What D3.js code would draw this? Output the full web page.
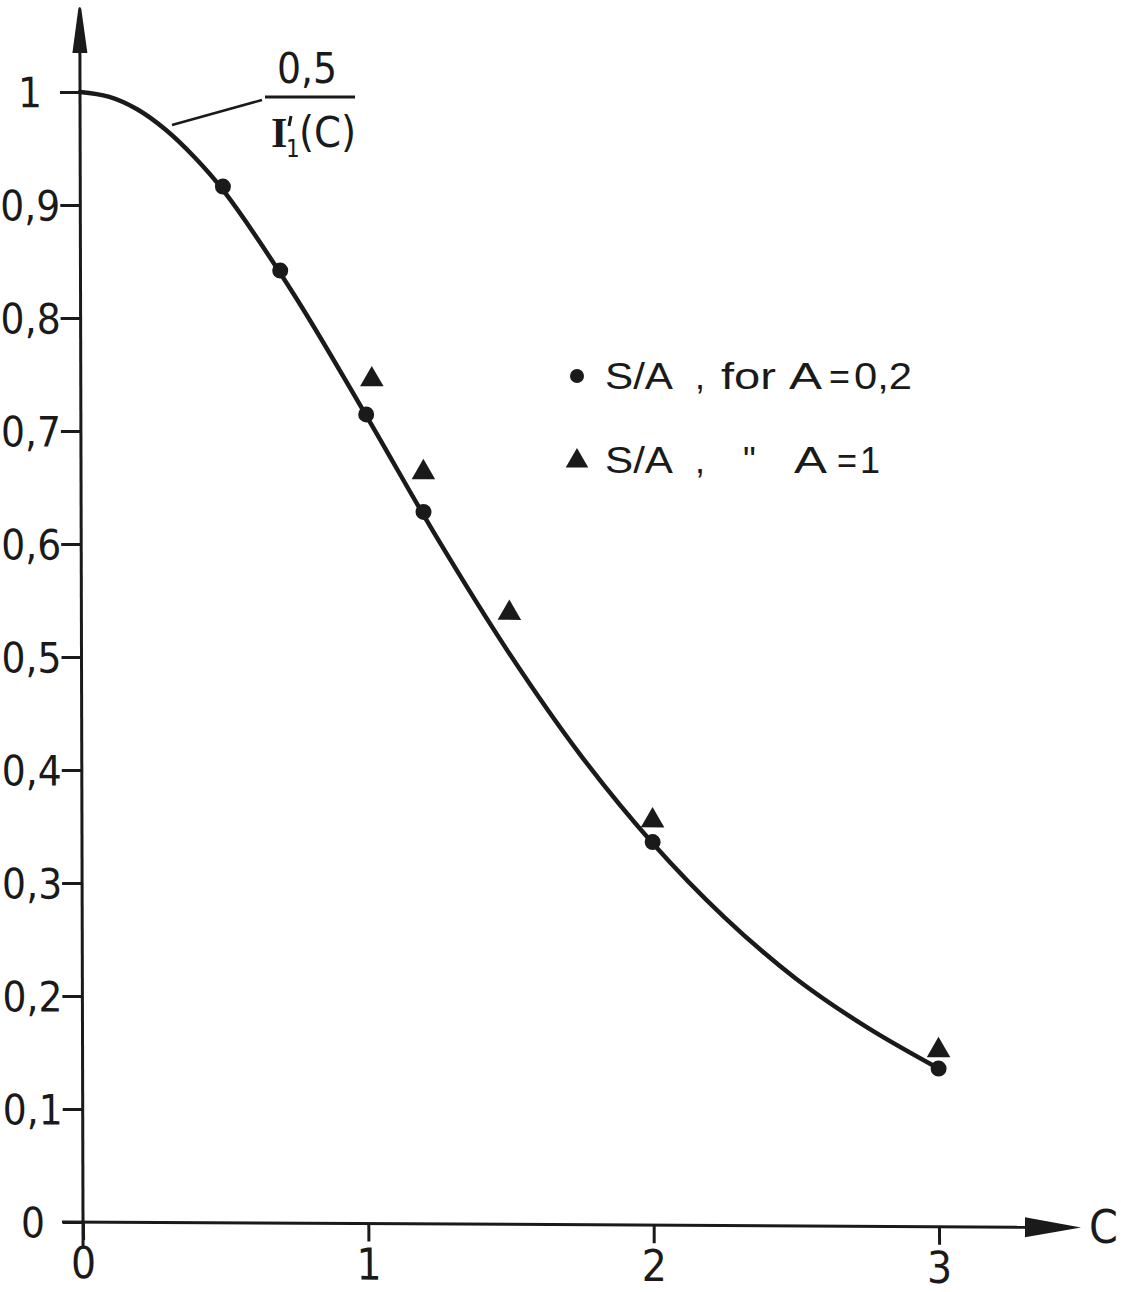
<!DOCTYPE html>
<html>
<head>
<meta charset="utf-8">
<script src="https://cdn.jsdelivr.net/npm/d3@7"></script>
<style>
  body { margin: 0; background: #fff; }
  svg { display: block; }
  text { font-family: "Liberation Sans Narrow", "DejaVu Sans Condensed", "Liberation Sans", sans-serif; fill: #1a1a1a; }
</style>
</head>
<body>
<div id="chart"></div>
<script>
// data
var circleC = [0.5, 0.7, 1.0, 1.2, 2.0, 3.0];
var circleS = [0.917, 0.843, 0.716, 0.630, 0.339, 0.140];   // S/A, for A = 0,2
var triangleC = [1.02, 1.2, 1.5, 2.0, 3.0];
var triangleS = [0.747, 0.665, 0.541, 0.358, 0.156];        // S/A, A = 1
var curveC = [0, 0.1, 0.2, 0.3, 0.4, 0.5, 0.75, 1, 1.25, 1.5, 1.75, 2, 2.25, 2.5, 2.75, 3];
var curveS = [1, 0.996, 0.985, 0.967, 0.943, 0.914, 0.821, 0.715, 0.606, 0.505, 0.415, 0.338, 0.273, 0.219, 0.176, 0.140];
var xTicks = [0, 1, 2, 3];
var yTicks = [0, 0.1, 0.2, 0.3, 0.4, 0.5, 0.6, 0.7, 0.8, 0.9, 1];

var width = 1121;
var height = 1292;
var ink = "#1a1a1a";

var svg = d3.select("#chart")
  .append("svg")
  .attr("width", width)
  .attr("height", height);

svg.append("rect").attr("width", width).attr("height", height).attr("fill", "#fff");

var x = d3.scaleLinear().domain([0, 3]).range([83, 939]);
var y = d3.scaleLinear().domain([0, 1]).range([1222, 92]);

// the scan is a little skewed
var skewX = 0.00265, skewY = 0.0055;
var plot = svg.append("g")
  .attr("transform", "matrix(1," + skewY + "," + skewX + ",1," + (-skewX * 1222) + "," + (-skewY * 83) + ")");

// y axis
var yAxis = plot.append("g")
  .attr("transform", "translate(" + x(0) + ",0)")
  .call(d3.axisLeft(y)
    .tickValues(yTicks)
    .tickSize(20)
    .tickFormat(function(d) {
      if (d === 0 || d === 1) return String(d);
      return d3.format(".1f")(d).replace(".", ",");
    }));
yAxis.select(".domain").remove();
yAxis.selectAll(".tick line").attr("stroke", ink).attr("stroke-width", 3);
yAxis.selectAll(".tick text")
  .attr("x", -50)
  .attr("dy", "0.36em")
  .attr("text-anchor", "middle")
  .style("font-size", "42px")
  .attr("fill", ink);

// x axis
var xAxis = plot.append("g")
  .attr("transform", "translate(0," + y(0) + ")")
  .call(d3.axisBottom(x)
    .tickValues(xTicks)
    .tickSize(18)
    .tickFormat(d3.format("d")));
xAxis.select(".domain").remove();
xAxis.selectAll(".tick line").attr("stroke", ink).attr("stroke-width", 3);
xAxis.selectAll(".tick text")
  .attr("y", 56)
  .attr("dy", 0)
  .style("font-size", "44px")
  .attr("fill", ink);

// axis lines with arrow heads
plot.append("line")
  .attr("x1", x(0)).attr("y1", y(0) + 24)
  .attr("x2", x(0)).attr("y2", 40)
  .attr("stroke", ink).attr("stroke-width", 3);
plot.append("path")
  .attr("d", "M" + (x(0) - 7.5) + ",53 L" + (x(0) - 1.5) + ",9 Q" + x(0) + ",5 " + (x(0) + 1.5) + ",9 L" + (x(0) + 7.5) + ",53 Z")
  .attr("fill", ink);
plot.append("line")
  .attr("x1", 62).attr("y1", y(0))
  .attr("x2", 1035).attr("y2", y(0))
  .attr("stroke", ink).attr("stroke-width", 3);
plot.append("path")
  .attr("d", "M1025," + (y(0) - 10) + " L1081," + y(0) + " L1025," + (y(0) + 10) + " Z")
  .attr("fill", ink);

// fitted curve 0,5 / I1'(C)
var line = d3.line()
  .x(function(d) { return x(d[0]); })
  .y(function(d) { return y(d[1]); })
  .curve(d3.curveCatmullRom);
plot.append("path")
  .datum(d3.zip(curveC, curveS))
  .attr("d", line)
  .attr("fill", "none")
  .attr("stroke", ink)
  .attr("stroke-width", 4.5)
  .attr("stroke-linecap", "round");

// points, A = 0,2
plot.selectAll("circle.pt")
  .data(d3.zip(circleC, circleS))
  .enter().append("circle")
  .attr("class", "pt")
  .attr("cx", function(d) { return x(d[0]); })
  .attr("cy", function(d) { return y(d[1]); })
  .attr("r", 8)
  .attr("fill", ink);

// points, A = 1
var tri = d3.symbol().type(d3.symbolTriangle).size(240);
plot.selectAll("path.tri")
  .data(d3.zip(triangleC, triangleS))
  .enter().append("path")
  .attr("class", "tri")
  .attr("d", tri)
  .attr("transform", function(d) { return "translate(" + x(d[0]) + "," + y(d[1]) + ")"; })
  .attr("fill", ink);

// C label
svg.append("text")
  .attr("x", 1089).attr("y", 1243)
  .style("font-size", "46px")
  .text("C");

// curve annotation
svg.append("line")
  .attr("x1", 172).attr("y1", 125).attr("x2", 262).attr("y2", 100)
  .attr("stroke", ink).attr("stroke-width", 2.5);
svg.append("line")
  .attr("x1", 265).attr("y1", 97).attr("x2", 355).attr("y2", 97)
  .attr("stroke", ink).attr("stroke-width", 3);
svg.append("text")
  .attr("x", 307).attr("y", 83)
  .attr("text-anchor", "middle")
  .style("font-size", "42px")
  .text("0,5");
svg.append("text")
  .attr("x", 271).attr("y", 147)
  .style("font-family", "Liberation Serif, serif")
  .style("font-weight", "bold")
  .style("font-size", "42px")
  .text("I");
svg.append("line")   // prime
  .attr("x1", 291).attr("y1", 116).attr("x2", 289).attr("y2", 126)
  .attr("stroke", ink).attr("stroke-width", 3);
svg.append("text")
  .attr("x", 286).attr("y", 157)
  .style("font-size", "24px")
  .text("1");
svg.append("text")
  .attr("x", 299).attr("y", 147)
  .style("font-size", "43px")
  .text("(C)");

// legend
var legend = svg.append("g");
legend.append("circle").attr("cx", 577).attr("cy", 376).attr("r", 7).attr("fill", ink);
legend.append("path")
  .attr("d", d3.symbol().type(d3.symbolTriangle).size(220))
  .attr("transform", "translate(577,461)")
  .attr("fill", ink);
var row1 = [["S/A", 605, 68], [",", 695, 0], ["for", 721, 55], ["A", 789, 33], ["=", 829, 21], ["0,2", 854, 58]];
var row2 = [["S/A", 605, 68], [",", 695, 0], ["\"", 743, 0], ["A", 794, 33], ["=", 837, 20], ["1", 860, 0]];
function legendRow(rows, yPos) {
  rows.forEach(function(r) {
    var t = legend.append("text")
      .attr("x", r[1])
      .attr("y", yPos)
      .style("font-family", "Liberation Sans, sans-serif")
      .style("font-size", "36px")
      .text(r[0]);
    if (r[2]) t.attr("textLength", r[2]).attr("lengthAdjust", "spacingAndGlyphs");
  });
}
legendRow(row1, 389);
legendRow(row2, 473);
</script>
</body>
</html>
